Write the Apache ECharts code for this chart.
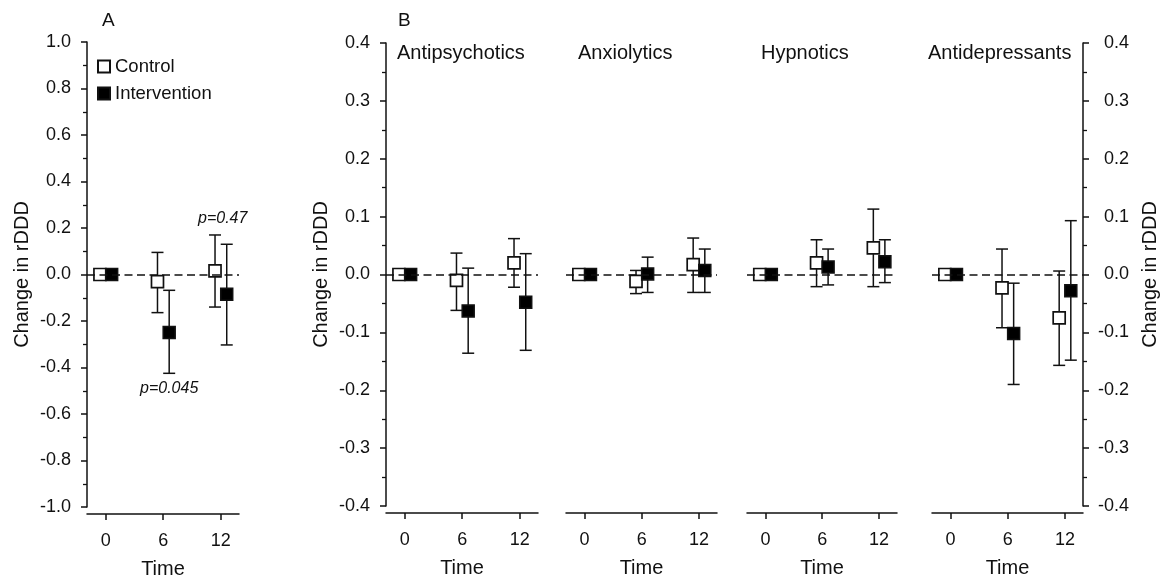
<!DOCTYPE html>
<html>
<head>
<meta charset="utf-8">
<script src="https://cdn.jsdelivr.net/npm/echarts@6/dist/echarts.min.js"></script>
<style>
  html, body { margin: 0; padding: 0; background: #fff; }
  #chart { width: 1162px; height: 579px; }
</style>
</head>
<body>
<div id="chart"></div>
<script>
// time points (months)
const timePoints = [0, 6, 12]
const timeTicks = [0, 6, 12]

// panel A: total change in rDDD (mean, lower, upper)
const totalControl = [0, -0.031, 0.016]
const totalControlLow = [0, -0.164, -0.14]
const totalControlHigh = [0, 0.095, 0.17]
const totalIntervention = [0, -0.249, -0.085]
const totalInterventionLow = [0, -0.425, -0.303]
const totalInterventionHigh = [0, -0.068, 0.13]

// panel B: by drug class
const drugClasses = ['Antipsychotics', 'Anxiolytics', 'Hypnotics', 'Antidepressants']
const classControl = [
    [0, -0.010, 0.020],
    [0, -0.012, 0.017],
    [0, 0.020, 0.046],
    [0, -0.023, -0.075]
]
const classControlLow = [
    [0, -0.062, -0.022],
    [0, -0.033, -0.031],
    [0, -0.021, -0.021],
    [0, -0.092, -0.157]
]
const classControlHigh = [
    [0, 0.037, 0.062],
    [0, 0.007, 0.063],
    [0, 0.060, 0.113],
    [0, 0.044, 0.006]
]
const classIntervention = [
    [0, -0.063, -0.048],
    [0, 0.001, 0.007],
    [0, 0.013, 0.022],
    [0, -0.102, -0.028]
]
const classInterventionLow = [
    [0, -0.136, -0.131],
    [0, -0.031, -0.031],
    [0, -0.018, -0.014],
    [0, -0.190, -0.148]
]
const classInterventionHigh = [
    [0, 0.011, 0.036],
    [0, 0.030, 0.044],
    [0, 0.044, 0.060],
    [0, -0.015, 0.093]
]

const FONT = 'Liberation Sans, Arial, sans-serif'
const INK = '#111'
const LW = 1.5
const ctrlShift = -0.6   // control drawn just left of the time point
const intvShift = 0.62   // intervention just right

let myChart = echarts.init(document.getElementById('chart'))

// grids: A, then the four panels of B
const grids = [
    { left: 87, top: 42, width: 152, height: 465 },
    { left: 386, top: 43, width: 152, height: 463 },
    { left: 566, top: 43, width: 151, height: 463 },
    { left: 747, top: 43, width: 150, height: 463 },
    { left: 932, top: 43, width: 151, height: 463 }
].map(g => Object.assign(g, { outerBoundsMode: 'none', containLabel: false }))

function fmt(v) {
    return Math.abs(v) < 1e-9 ? '0.0' : v.toFixed(1)
}

const xAxes = grids.map((g, i) => ({
    type: 'value',
    gridIndex: i,
    min: -1.95,
    max: 13.9,
    offset: 7,
    splitLine: { show: false },
    axisLine: { onZero: false, lineStyle: { color: INK, width: LW } },
    axisTick: { customValues: timeTicks, length: 6, lineStyle: { color: INK, width: LW } },
    axisLabel: { customValues: timeTicks, margin: 18, fontSize: 18, color: INK, fontFamily: FONT },
    name: 'Time',
    nameLocation: 'middle',
    nameGap: 45,
    nameTextStyle: { fontSize: 20, color: INK, fontFamily: FONT }
}))

function yAxisFor(i) {
    const isA = i === 0
    const base = {
        type: 'value',
        gridIndex: i,
        min: isA ? -1 : -0.4,
        max: isA ? 1 : 0.4,
        interval: isA ? 0.2 : 0.1,
        splitLine: { show: false },
        axisLine: { onZero: false, lineStyle: { color: INK, width: LW } },
        axisTick: { length: 6, lineStyle: { color: INK, width: LW } },
        minorTick: { show: true, splitNumber: 2, length: 4, lineStyle: { color: INK, width: 1.3 } },
        minorSplitLine: { show: false },
        axisLabel: { formatter: fmt, margin: 16, fontSize: 18, color: INK, fontFamily: FONT },
        name: 'Change in rDDD',
        nameLocation: 'middle',
        nameGap: 55,
        nameTextStyle: { fontSize: 20, color: INK, fontFamily: FONT }
    }
    if (i === 2 || i === 3) {
        base.show = false
    }
    if (i === 4) {
        base.position = 'right'
        base.nameRotate = 90
        base.nameGap = 57
        base.axisLabel.align = 'right'
        base.axisLabel.margin = 46
    }
    return base
}
const yAxes = grids.map((g, i) => yAxisFor(i))

function errorBarItem(params, api) {
    const x = api.value(0)
    const lo = api.coord([x, api.value(1)])
    const hi = api.coord([x, api.value(2)])
    if (Math.abs(lo[1] - hi[1]) < 0.5) return
    const half = 6
    const style = { stroke: INK, lineWidth: LW }
    return {
        type: 'group',
        children: [
            { type: 'line', shape: { x1: lo[0], y1: lo[1], x2: hi[0], y2: hi[1] }, style },
            { type: 'line', shape: { x1: lo[0] - half, y1: lo[1], x2: lo[0] + half, y2: lo[1] }, style },
            { type: 'line', shape: { x1: hi[0] - half, y1: hi[1], x2: hi[0] + half, y2: hi[1] }, style }
        ]
    }
}

let series = []
function addPanel(i, ctrl, ctrlLo, ctrlHi, intv, intvLo, intvHi) {
    const ctrlBars = timePoints.map((t, k) => [t + ctrlShift, ctrlLo[k], ctrlHi[k]])
    const intvBars = timePoints.map((t, k) => [t + intvShift, intvLo[k], intvHi[k]])
    series.push({
        type: 'custom',
        xAxisIndex: i, yAxisIndex: i,
        renderItem: errorBarItem,
        encode: { x: 0, y: [1, 2] },
        data: ctrlBars.concat(intvBars),
        silent: true,
        z: 2,
        markLine: {
            silent: true,
            symbol: 'none',
            label: { show: false },
            lineStyle: { color: INK, type: [8, 4.5], width: 1.6 },
            data: [{ yAxis: 0 }]
        }
    })
    series.push({
        name: 'Control',
        type: 'scatter',
        xAxisIndex: i, yAxisIndex: i,
        symbol: 'rect',
        symbolSize: 12,
        itemStyle: { color: '#fff', borderColor: INK, borderWidth: 1.7, opacity: 1 },
        data: timePoints.map((t, k) => [t + ctrlShift, ctrl[k]]),
        z: 3
    })
    series.push({
        name: 'Intervention',
        type: 'scatter',
        xAxisIndex: i, yAxisIndex: i,
        symbol: 'rect',
        symbolSize: 12,
        itemStyle: { color: '#000', borderColor: INK, borderWidth: 1.5, opacity: 1 },
        data: timePoints.map((t, k) => [t + intvShift, intv[k]]),
        z: 4
    })
}

addPanel(0, totalControl, totalControlLow, totalControlHigh,
    totalIntervention, totalInterventionLow, totalInterventionHigh)
drugClasses.forEach((name, j) => {
    addPanel(j + 1, classControl[j], classControlLow[j], classControlHigh[j],
        classIntervention[j], classInterventionLow[j], classInterventionHigh[j])
})

const titleLeft = [397, 578, 761, 928]

myChart.setOption({
    animation: false,
    textStyle: { fontFamily: FONT },
    title: [
        { text: 'A', left: 102, top: 11, padding: 0, textStyle: { fontSize: 19, fontWeight: 'normal', color: INK, fontFamily: FONT } },
        { text: 'B', left: 398, top: 11, padding: 0, textStyle: { fontSize: 19, fontWeight: 'normal', color: INK, fontFamily: FONT } }
    ].concat(drugClasses.map((name, j) => ({
        text: name, left: titleLeft[j], top: 43,
        padding: 0,
        textStyle: { fontSize: 20, fontWeight: 'normal', color: INK, fontFamily: FONT }
    }))),
    legend: {
        data: ['Control', 'Intervention'],
        orient: 'vertical',
        left: 97,
        top: 57,
        padding: 0,
        itemWidth: 12,
        itemHeight: 12,
        itemGap: 8,
        icon: 'rect',
        textStyle: { fontSize: 18.5, color: INK, fontFamily: FONT }
    },
    graphic: [
        { type: 'text', left: 198, top: 211, style: { text: 'p=0.47', fontSize: 16, fontStyle: 'italic', fill: INK, fontFamily: FONT } },
        { type: 'text', left: 140, top: 381, style: { text: 'p=0.045', fontSize: 16, fontStyle: 'italic', fill: INK, fontFamily: FONT } }
    ],
    grid: grids,
    xAxis: xAxes,
    yAxis: yAxes,
    series: series
})
</script>
</body>
</html>
